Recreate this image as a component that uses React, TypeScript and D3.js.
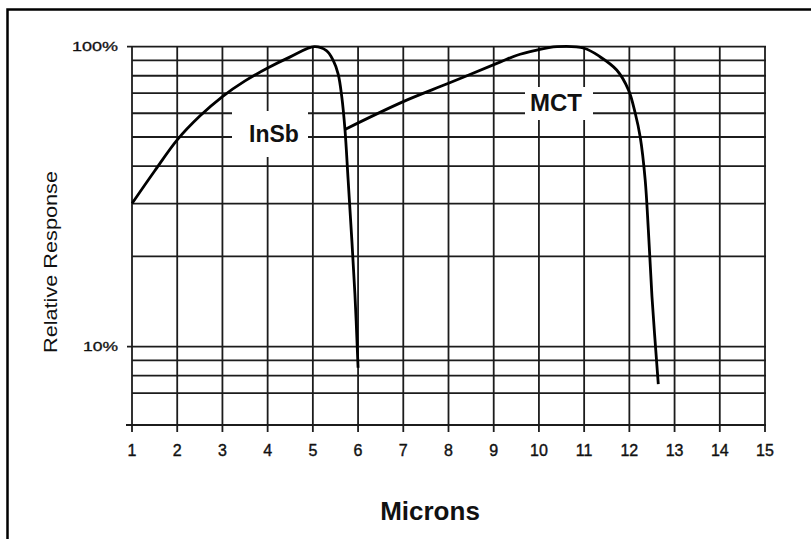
import React from "react";
import * as d3 from "d3";

// Wavelength (microns) axis ticks
const xTicks = [1, 2, 3, 4, 5, 6, 7, 8, 9, 10, 11, 12, 13, 14, 15];
// Relative response grid lines (fraction of peak)
const yGrid = [1, 0.9, 0.8, 0.7, 0.6, 0.5, 0.4, 0.3, 0.2, 0.1, 0.09, 0.08, 0.07];
const yTickLabels = [
  { v: 1, label: "100%" },
  { v: 0.1, label: "10%" },
];
const yBottom = 0.0548;

// InSb detector spectral response
const insbMicrons = [1, 1.5, 2, 2.5, 3, 3.5, 4, 4.5, 5.03, 5.3, 5.45, 5.56, 5.64, 5.71, 5.78, 5.93, 6.0];
const insbResponse = [30, 38.5, 48.9, 58.7, 68.2, 76.9, 84.9, 92.5, 100, 97, 90, 81, 68, 53, 36, 15, 8.5];

// MCT detector spectral response
const mctMicrons = [5.71, 7, 8, 9.15, 9.5, 9.9, 10.4, 11, 11.35, 11.72, 11.98, 12.13, 12.24, 12.35, 12.42, 12.5, 12.64];
const mctResponse = [53, 65.6, 75.5, 89, 93.5, 97, 100, 98.8, 92.6, 83.6, 71.8, 60, 50, 36, 24.5, 14.7, 7.5];

const W = 811;
const H = 539;

export default function App() {
  const x = d3.scaleLinear().domain([1, 15]).range([132, 765]);
  const y = d3.scaleLog().domain([yBottom, 1]).range([425, 46.7]);

  const line = d3
    .line<[number, number]>()
    .x((d) => x(d[0]))
    .y((d) => y(d[1] / 100))
    .curve(d3.curveCatmullRom.alpha(0.5));

  const insb = insbMicrons.map((m, i) => [m, insbResponse[i]] as [number, number]);
  const mct = mctMicrons.map((m, i) => [m, mctResponse[i]] as [number, number]);

  const gridColor = "#1c1c1c";
  const font = "'Liberation Sans', Arial, Helvetica, sans-serif";
  const x0 = x(1);
  const x1 = x(15);
  const yTop = y(1);
  const yBot = y(yBottom);

  return (
    <svg
      width={W}
      height={H}
      style={{ position: "absolute", left: 0, top: 0, display: "block", background: "#fff" }}
      fontFamily={font}
    >
      <rect x={0} y={0} width={W} height={H} fill="#fff" />
      {/* frame */}
      <path d={`M7.5,${H} V9.5 H${W}`} fill="none" stroke="#000" strokeWidth={2.5} />

      {/* horizontal grid */}
      {yGrid.map((v) => (
        <line
          key={"h" + v}
          x1={v === 1 || v === 0.1 ? x0 - 5 : x0}
          x2={x1 + 1}
          y1={y(v)}
          y2={y(v)}
          stroke={gridColor}
          strokeWidth={1.8}
        />
      ))}
      <line x1={x0 - 6} x2={x1 + 1} y1={yBot} y2={yBot} stroke={gridColor} strokeWidth={1.8} />

      {/* vertical grid */}
      {xTicks.map((t) => (
        <line
          key={"v" + t}
          x1={x(t)}
          x2={x(t)}
          y1={yTop}
          y2={yBot + 7}
          stroke={gridColor}
          strokeWidth={1.8}
        />
      ))}

      {/* label backgrounds */}
      <rect x={232} y={111} width={76} height={46} fill="#fff" />
      <rect x={525} y={87} width={68} height={33} fill="#fff" />

      {/* response curves */}
      <path d={line(insb) || ""} fill="none" stroke="#000" strokeWidth={2.8} strokeLinejoin="round" />
      <path d={line(mct) || ""} fill="none" stroke="#000" strokeWidth={2.8} strokeLinejoin="round" />

      {/* series labels */}
      <text x={274} y={142} textAnchor="middle" fontSize={23} fontWeight="bold" fill="#111">
        InSb
      </text>
      <text x={556} y={111} textAnchor="middle" fontSize={24} fontWeight="bold" fill="#111">
        MCT
      </text>

      {/* x tick labels */}
      {xTicks.map((t) => (
        <text
          key={"xt" + t}
          x={x(t)}
          y={456}
          textAnchor="middle"
          fontSize={16}
          fill="#111"
          stroke="#111"
          strokeWidth={0.4}
        >
          {t}
        </text>
      ))}

      {/* y tick labels */}
      {yTickLabels.map((d) => (
        <text
          key={"yt" + d.label}
          x={118}
          y={y(d.v) + 4.5}
          textAnchor="end"
          fontSize={12.5}
          fill="#111"
          stroke="#111"
          strokeWidth={0.3}
          textLength={d.label.length === 4 ? 46 : 35}
          lengthAdjust="spacingAndGlyphs"
        >
          {d.label}
        </text>
      ))}

      {/* axis titles */}
      <text
        transform="translate(57,262) rotate(-90)"
        textAnchor="middle"
        fontSize={18}
        fill="#111"
        textLength={182}
        lengthAdjust="spacingAndGlyphs"
      >
        Relative Response
      </text>
      <text x={430} y={520} textAnchor="middle" fontSize={26} fontWeight="bold" fill="#111">
        Microns
      </text>
    </svg>
  );
}
